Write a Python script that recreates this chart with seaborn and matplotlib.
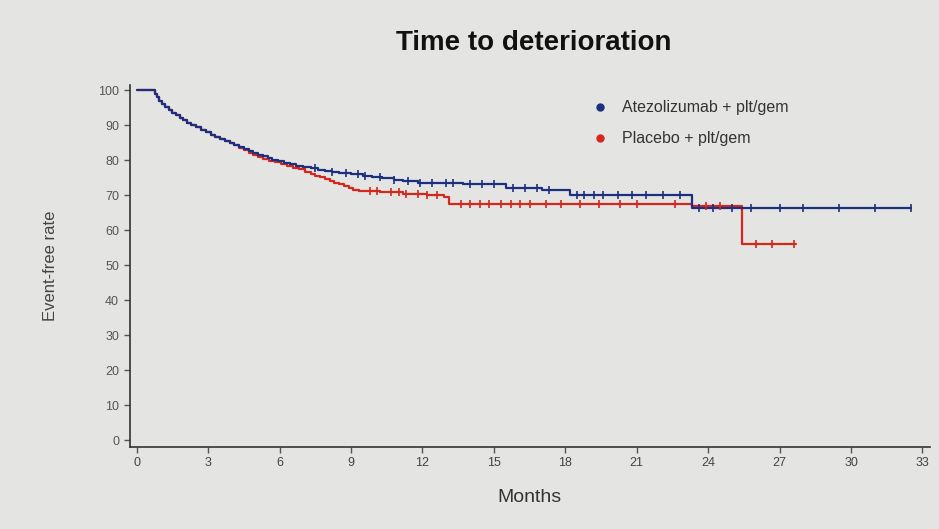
import numpy as np
import pandas as pd
import seaborn as sns
import matplotlib.pyplot as plt
from matplotlib.lines import Line2D

# Kaplan-Meier steps (month, event-free %)
atezo_t = [0, 0.75, 0.85, 0.95, 1.05, 1.2, 1.35, 1.5, 1.65, 1.8, 1.95, 2.1, 2.3, 2.5, 2.7,
           2.9, 3.1, 3.3, 3.5, 3.7, 3.9, 4.1, 4.3, 4.5, 4.7, 4.9, 5.1, 5.3, 5.5, 5.7,
           5.95, 6.2, 6.45, 6.7, 7.0, 7.3, 7.6, 7.9, 8.2, 8.5, 9.0, 9.5, 9.9, 10.3,
           10.8, 11.2, 11.8, 13.7, 15.5, 17.0, 18.2, 23.3, 32.5]
atezo_s = [100, 99, 98, 97, 96, 95.2, 94.4, 93.6, 92.9, 92.2, 91.5, 90.8, 90.1, 89.4, 88.7,
           88, 87.3, 86.7, 86.1, 85.5, 84.9, 84.3, 83.7, 83.1, 82.6, 82.1, 81.6, 81.1, 80.6, 80.2,
           79.7, 79.3, 78.9, 78.5, 78.1, 77.7, 77.3, 77.0, 76.7, 76.4, 76.0, 75.6, 75.3, 74.9,
           74.5, 74.1, 73.6, 73.2, 72.1, 71.6, 70.2, 66.5, 66.5]
atezo_cens = [7.5, 8.2, 8.8, 9.3, 9.6, 10.2, 10.8, 11.4, 11.9, 12.4, 13.0, 13.3, 14.0,
              14.5, 15.0, 15.8, 16.3, 16.8, 17.3, 18.5, 18.8, 19.2, 19.6, 20.2, 20.8,
              21.4, 22.1, 22.8, 23.6, 24.2, 25.0, 25.8, 27.0, 28.0, 29.5, 31.0, 32.5]

placebo_t = [0, 0.75, 0.85, 0.95, 1.05, 1.2, 1.35, 1.5, 1.65, 1.8, 1.95, 2.1, 2.3, 2.5, 2.7,
             2.9, 3.1, 3.3, 3.5, 3.7, 3.9, 4.1, 4.3, 4.5, 4.7, 4.9, 5.1, 5.3, 5.55, 5.8,
             6.05, 6.3, 6.55, 6.8, 7.05, 7.3, 7.5, 7.7, 7.9, 8.1, 8.3, 8.5, 8.7, 8.9, 9.1,
             9.35, 10.2, 11.2, 12.2, 12.9, 13.1, 23.3, 25.4, 27.7]
placebo_s = [100, 99, 98, 97, 96, 95.2, 94.4, 93.6, 92.9, 92.2, 91.5, 90.8, 90.1, 89.4, 88.7,
             88, 87.3, 86.7, 86.1, 85.5, 84.9, 84.3, 83.6, 82.9, 82.2, 81.6, 81.0, 80.4, 79.9, 79.4,
             78.9, 78.4, 77.9, 77.4, 76.8, 76.2, 75.6, 75.1, 74.6, 74.1, 73.6, 73.1, 72.6, 72.1, 71.6,
             71.1, 70.8, 70.4, 70.1, 69.6, 67.6, 66.8, 56, 56]
placebo_cens = [9.8, 10.1, 10.7, 11.0, 11.3, 11.8, 12.2, 12.6, 13.6, 14.0, 14.4, 14.8,
                15.3, 15.7, 16.1, 16.5, 17.2, 17.8, 18.6, 19.4, 20.3, 21.0, 22.6, 23.9,
                24.5, 26.0, 26.7, 27.6]

labels = ['Atezolizumab + plt/gem', 'Placebo + plt/gem']
colors = ['#1d2f7e', '#d2281e']
bg = '#e4e4e2'

sns.set_style('ticks')
plt.rcParams['font.family'] = ['Liberation Sans', 'DejaVu Sans']

fig = plt.figure(figsize=(9.39, 5.29), dpi=100, facecolor=bg)
ax = fig.add_axes([0.138, 0.155, 0.852, 0.684])
ax.set_facecolor(bg)

arms = [(atezo_t, atezo_s, atezo_cens), (placebo_t, placebo_s, placebo_cens)]
# placebo first so the atezolizumab curve sits on top
for (t, s, cens), col in list(zip(arms, colors))[::-1]:
    df = pd.DataFrame({'month': t, 'rate': s})
    sns.lineplot(data=df, x='month', y='rate', drawstyle='steps-post', color=col,
                 lw=1.6, estimator=None, sort=False, ax=ax)
    idx = np.searchsorted(t, cens, side='right') - 1
    cdf = pd.DataFrame({'month': cens, 'rate': np.array(s)[idx]})
    sns.scatterplot(data=cdf, x='month', y='rate', marker='|', s=40, color=col,
                    linewidth=1.2, ax=ax, zorder=3)

ax.set_xlim(-0.3, 33.3)
ax.set_ylim(-2, 101.5)
ax.set_xticks(range(0, 34, 3))
ax.set_yticks(range(0, 101, 10))
ax.tick_params(colors='#555555', labelsize=9, length=4, width=1)
ax.tick_params(axis='x', labelcolor='#444444')
for side in ['left', 'bottom']:
    ax.spines[side].set_color('#333333')
    ax.spines[side].set_linewidth(1.2)
sns.despine(ax=ax)

ax.set_xlabel('Months', fontsize=14, color='#333333', labelpad=14)
ax.set_ylabel('Event-free rate', fontsize=12, color='#444444', labelpad=29)
fig.text(0.568, 0.918, 'Time to deterioration', ha='center', va='center',
         fontsize=20, fontweight='bold', color='#111111')

handles = [Line2D([], [], ls='none', marker='o', ms=5, color=c) for c in colors]
ax.legend(handles, labels, loc='upper left', bbox_to_anchor=(0.55, 0.998), frameon=False,
          fontsize=11.5, handletextpad=0.4, labelspacing=1.0, labelcolor='#333333')

fig.savefig('out.png', dpi=100, facecolor=bg)
